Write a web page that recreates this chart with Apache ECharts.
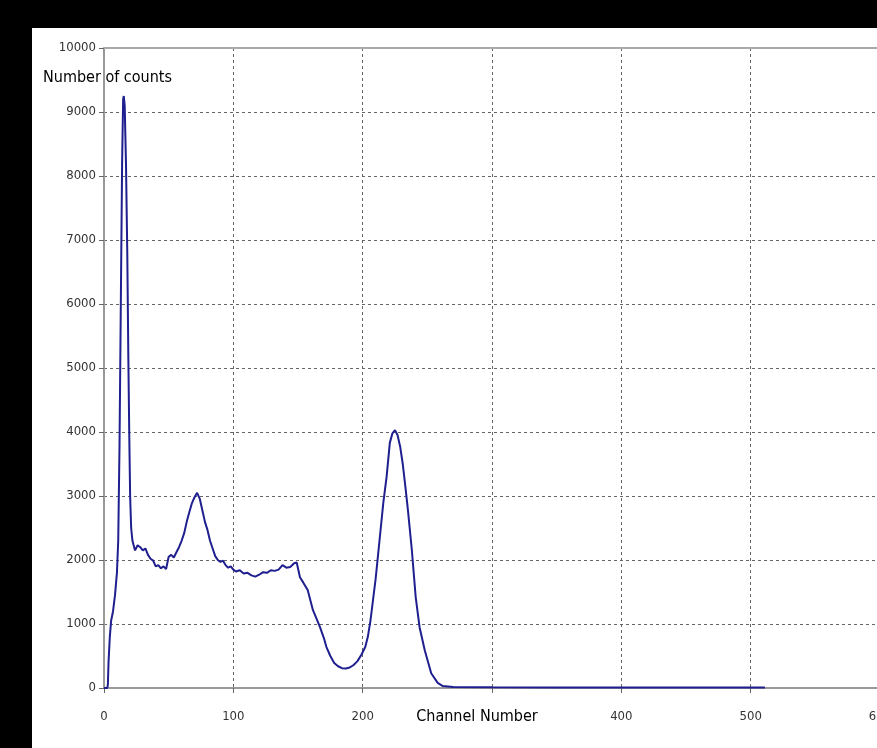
<!DOCTYPE html>
<html>
<head>
<meta charset="utf-8">
<script src="https://cdn.jsdelivr.net/npm/echarts@6/dist/echarts.min.js"></script>
<style>
  html, body { margin: 0; padding: 0; background: #000; width: 877px; height: 748px; overflow: hidden; }
  #chart { position: absolute; left: 32px; top: 28px; width: 845px; height: 720px; background: #fff; }
</style>
</head>
<body>
<div id="chart"></div>
<script>
// channel numbers and counts
const channels = [
  0, 2.5, 3, 3.5, 4.5, 5.5, 7, 8.5, 10, 11, 12, 13, 14, 14.8, 15.3, 16, 17, 18, 18.8, 19.5, 20.2, 21,
  22, 24, 26, 28, 30, 32, 34, 36, 38, 40, 42, 44, 46, 48, 50, 52, 54, 56, 58, 60, 62, 64, 66, 68, 70, 72,
  74, 76, 78, 80, 82, 84, 86, 88, 90, 92, 94, 96, 98, 100, 102, 105, 108, 111, 114, 117, 120, 123, 126,
  129, 132, 135, 138, 141, 144, 147, 149, 151.5, 154, 157.5, 161.5, 164, 167, 170, 172, 175, 178, 181,
  184, 187, 190, 193, 196, 199, 202, 204, 206, 208, 210, 212, 214, 216, 218.5, 221, 223, 225, 227,
  229, 231, 233, 235, 238, 241, 244, 248, 253, 258, 262, 270, 300, 350, 400, 450, 511
];
const counts = [
  0, 0, 50, 400, 800, 1050, 1200, 1450, 1800, 2300, 3800, 6000, 8200, 9200, 9250, 9100, 8200, 6800, 5200, 4000, 3000, 2500,
  2300, 2150, 2230, 2200, 2150, 2180, 2080, 2020, 1990, 1900, 1920, 1870, 1900, 1860, 2050, 2080, 2040, 2120, 2200, 2300, 2420, 2600, 2750, 2890, 2980, 3050,
  2960, 2780, 2600, 2470, 2300, 2180, 2060, 2000, 1970, 1990, 1920, 1880, 1900, 1850, 1820, 1840, 1790, 1800, 1760, 1740, 1770, 1810, 1800,
  1840, 1830, 1850, 1920, 1880, 1890, 1950, 1960, 1730, 1650, 1530, 1220, 1100, 950, 780, 640, 500, 390, 340,
  310, 305, 320, 360, 420, 520, 640, 800, 1050, 1375, 1700, 2100, 2500, 2900, 3300, 3830, 3980, 4030, 3950,
  3770, 3500, 3150, 2780, 2160, 1420, 950, 590, 230, 80, 30, 15, 10, 8, 8, 8, 8
];
const yTicks = [0, 1000, 2000, 3000, 4000, 5000, 6000, 7000, 8000, 9000, 10000];
const xTicks = [0, 100, 200, 300, 400, 500, 600];

const points = channels.map((c, i) => [c, counts[i]]);

const chart = echarts.init(document.getElementById("chart"));
const labelFont = "'Liberation Sans Narrow', 'DejaVu Sans Condensed', 'Liberation Sans', sans-serif";
const grid = { lineStyle: { color: "#666", type: [3, 3], width: 1 } };

chart.setOption({
  animation: false,
  backgroundColor: "#fff",
  grid: { left: 72, top: 20, right: -3, bottom: 60, outerBoundsMode: "none", containLabel: false },
  graphic: [
    {
      type: "text",
      left: 11,
      top: 42,
      style: { text: "Number of counts", font: "16px " + labelFont, fill: "#000" }
    }
  ],
  xAxis: [
    {
      type: "value",
      min: xTicks[0],
      max: xTicks[xTicks.length - 1],
      interval: 100,
      name: "Channel Number",
      nameLocation: "middle",
      nameGap: 21,
      nameMoveOverlap: false,
      nameTextStyle: { fontFamily: labelFont, fontSize: 16, color: "#000", padding: [0, 30, 0, 0] },
      axisLine: { lineStyle: { color: "#999", width: 2 } },
      axisTick: { length: 5, lineStyle: { color: "#666" } },
      axisLabel: {
        margin: 22,
        fontFamily: labelFont,
        fontSize: 13,
        color: "#333",
        formatter: v => (v === 300 ? "" : String(v))
      },
      splitLine: { show: true, ...grid }
    },
    {
      type: "value",
      position: "top",
      min: 0,
      max: 600,
      axisLine: { lineStyle: { color: "#aaa", width: 2 } },
      axisTick: { show: false },
      axisLabel: { show: false },
      splitLine: { show: false }
    }
  ],
  yAxis: {
    type: "value",
    min: yTicks[0],
    max: yTicks[yTicks.length - 1],
    interval: 1000,
    axisLine: { show: true, lineStyle: { color: "#999", width: 2 } },
    axisTick: { show: true, length: 5, lineStyle: { color: "#666" } },
    axisLabel: { margin: 8, fontFamily: labelFont, fontSize: 13, color: "#333", formatter: v => String(v) },
    splitLine: { show: true, ...grid }
  },
  series: [
    {
      type: "line",
      data: points,
      showSymbol: false,
      lineStyle: { color: "#1f1f8f", width: 2 },
      z: 5
    }
  ]
});
</script>
</body>
</html>
